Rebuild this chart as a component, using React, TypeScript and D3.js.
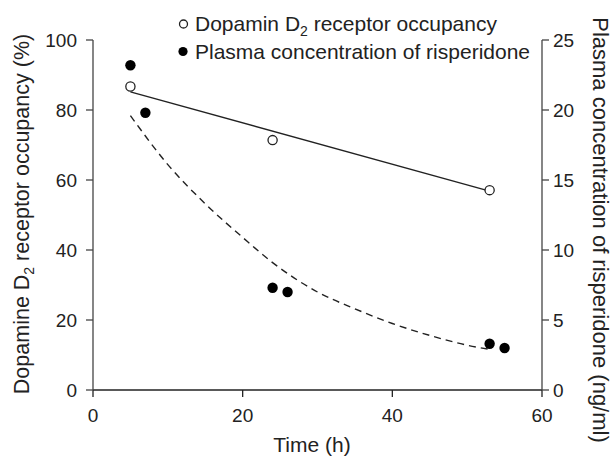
import React from 'react';
import * as d3 from 'd3';

// occupancy (left axis, %)
const occTime = [5, 24, 53];
const occValue = [86.7, 71.4, 57.1];
const occFitTime = [5, 53];
const occFitValue = [85.2, 56.8];

// plasma concentration (right axis, ng/ml)
const pkTime = [5, 7, 24, 26, 53, 55];
const pkValue = [23.2, 19.8, 7.3, 7.0, 3.3, 3.0];
const pkFitTime = [5, 10, 15, 20, 24, 30, 35, 40, 45, 50, 53];
const pkFitValue = [19.6, 16.1, 13.3, 10.9, 9.1, 7.0, 5.8, 4.75, 3.9, 3.2, 2.9];

const xTicks = [0, 20, 40, 60];
const leftTicks = [0, 20, 40, 60, 80, 100];
const rightTicks = [0, 5, 10, 15, 20, 25];

const W = 614, H = 457;
const left = 93, right = 542, top = 40, bottom = 390;
const font = '"Liberation Sans", Arial, sans-serif';
const ink = '#222';

export default function App() {
  const x = d3.scaleLinear().domain([0, 60]).range([left, right]);
  const yL = d3.scaleLinear().domain([0, 100]).range([bottom, top]);
  const yR = d3.scaleLinear().domain([0, 25]).range([bottom, top]);

  const solid = d3.line<number>()
    .x((_, i) => x(occFitTime[i]))
    .y(d => yL(d));
  const dashed = d3.line<number>()
    .x((_, i) => x(pkFitTime[i]))
    .y(d => yR(d))
    .curve(d3.curveMonotoneX);

  return (
    <div>
      <style>{'body{margin:0}'}</style>
      <svg width={W} height={H} style={{ display: 'block', background: '#fff' }} fontFamily={font}>
        {/* axes */}
        <line x1={left} x2={right} y1={bottom} y2={bottom} stroke={ink} strokeWidth={1.3} />
        <line x1={left} x2={left} y1={top} y2={bottom} stroke="#444" strokeWidth={1.3} />
        <line x1={right} x2={right} y1={top} y2={bottom} stroke="#444" strokeWidth={1.3} />

        {xTicks.map(t => (
          <g key={'x' + t}>
            <line x1={x(t)} x2={x(t)} y1={bottom} y2={bottom + 7} stroke={ink} strokeWidth={1.3} />
            <text x={x(t)} y={422} fontSize={19} textAnchor="middle" fill={ink}>{t}</text>
          </g>
        ))}
        {leftTicks.map(t => (
          <g key={'l' + t}>
            <line x1={left - 7} x2={left} y1={yL(t)} y2={yL(t)} stroke="#444" strokeWidth={1.3} />
            <text x={left - 16} y={yL(t)} dy="0.36em" fontSize={19} textAnchor="end" fill={ink}>{t}</text>
          </g>
        ))}
        {rightTicks.map(t => (
          <g key={'r' + t}>
            <line x1={right} x2={right + 7} y1={yR(t)} y2={yR(t)} stroke="#444" strokeWidth={1.3} />
            <text x={right + 11} y={yR(t)} dy="0.36em" fontSize={19} textAnchor="start" fill={ink}>{t}</text>
          </g>
        ))}

        {/* axis titles */}
        <text x={312} y={452} fontSize={21} textAnchor="middle" fill={ink}>Time (h)</text>
        <text transform={`translate(29,214) rotate(-90)`} fontSize={21.5} textAnchor="middle" fill={ink}>
          Dopamine D<tspan fontSize={14} dy={5}>2</tspan><tspan dy={-5}> receptor occupancy (%)</tspan>
        </text>
        <text transform={`translate(593,230) rotate(90)`} fontSize={22} textAnchor="middle" fill={ink}>
          Plasma concentration of risperidone (ng/ml)
        </text>

        {/* fitted lines */}
        <path d={solid(occFitValue) ?? ''} fill="none" stroke={ink} strokeWidth={1.4} />
        <path d={dashed(pkFitValue) ?? ''} fill="none" stroke={ink} strokeWidth={1.4} strokeDasharray="7,5" />

        {/* points */}
        {occTime.map((t, i) => (
          <circle key={'o' + i} cx={x(t)} cy={yL(occValue[i])} r={4.6} fill="#fff" stroke={ink} strokeWidth={1.3} />
        ))}
        {pkTime.map((t, i) => (
          <circle key={'p' + i} cx={x(t)} cy={yR(pkValue[i])} r={5.2} fill="#000" />
        ))}

        {/* legend */}
        <circle cx={183.5} cy={24} r={4} fill="#fff" stroke={ink} strokeWidth={1.3} />
        <text x={195} y={31} fontSize={21} fill={ink}>
          Dopamin D<tspan fontSize={14} dy={5}>2</tspan><tspan dy={-5}> receptor occupancy</tspan>
        </text>
        <circle cx={183} cy={51.5} r={4.6} fill="#000" />
        <text x={195} y={58.5} fontSize={21} fill={ink}>Plasma concentration of risperidone</text>
      </svg>
    </div>
  );
}
